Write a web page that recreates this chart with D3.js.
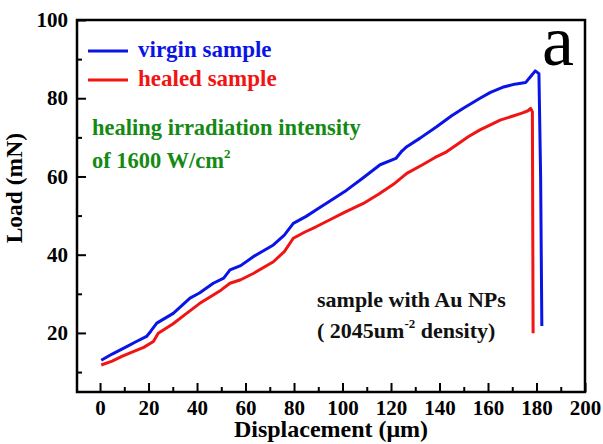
<!DOCTYPE html>
<html>
<meta charset="utf-8">

<body style="margin:0; background:#fff">
  <svg></svg>
</body>

<script src="https://d3js.org/d3.v7.min.js"></script>

<script>

  // data
  var virginX = [0.5, 5, 11, 15, 19.2, 21, 23.4, 30.2, 37.1, 41, 46.7, 51, 53.6, 58, 63.2, 71.5, 76, 79.7, 85, 90, 95, 101.7, 108, 115.5, 122, 124.5, 126.5, 132, 138.8, 145, 150, 156.7, 161, 166, 171, 175.5, 177.5, 179.5, 181, 181.7, 182.2];
  var virginY = [13.0, 14.6, 16.5, 17.8, 19.1, 20.5, 22.5, 25.0, 28.9, 30.2, 32.7, 34.0, 36.1, 37.2, 39.5, 42.5, 45.0, 48.0, 49.8, 51.8, 53.8, 56.5, 59.4, 63.0, 64.6, 66.5, 67.6, 69.8, 72.7, 75.5, 77.5, 80.0, 81.5, 82.8, 83.6, 84.0, 85.5, 87.0, 86.3, 60.0, 21.8];

  var healedX = [0.5, 5, 9, 13.7, 18, 22, 24, 30, 35.7, 41, 46.7, 50, 53.6, 58, 63.2, 71.5, 76, 79.7, 84.5, 89.3, 95, 101, 108.6, 115, 121, 126.5, 133, 138, 142.9, 148, 152, 156.7, 161, 165, 170, 174, 176.5, 177.6, 178.3, 178.6];
  var healedY = [11.8, 12.8, 14.0, 15.2, 16.3, 17.8, 19.9, 22.3, 25.0, 27.5, 29.7, 31.0, 32.7, 33.6, 35.2, 38.2, 40.8, 44.2, 45.8, 47.2, 49.0, 50.9, 53.1, 55.5, 58.0, 60.8, 63.0, 64.8, 66.3, 68.5, 70.2, 71.9, 73.2, 74.4, 75.4, 76.2, 76.8, 77.4, 76.5, 19.9];

  var xTicks = [0, 20, 40, 60, 80, 100, 120, 140, 160, 180, 200];
  var yTicks = [20, 40, 60, 80, 100];

  var seriesNames = ["virgin sample", "healed sample"];
  var seriesColors = ["#0a14e6", "#f01414"];

  var W = 603, H = 444;
  var margin = { top: 20, right: 18, bottom: 52, left: 77 };
  var width = W - margin.left - margin.right;
  var height = H - margin.top - margin.bottom;
  var serif = "'Liberation Serif', 'Times New Roman', serif";

  var svg = d3.select("svg")
    .attr("width", W)
    .attr("height", H)
    .append("g")
    .attr("transform", "translate(" + margin.left + "," + margin.top + ")");

  var xScale = d3.scaleLinear().domain([-9.5, 200]).range([0, width]);
  var yScale = d3.scaleLinear().domain([4.9, 100]).range([height, 0]);

  // frame
  svg.append("rect")
    .attr("width", width).attr("height", height)
    .attr("fill", "none").attr("stroke", "#000").attr("stroke-width", 2.5);

  // minor ticks (every 10), then major ticks with labels, pointing inward
  var xMinor = d3.range(10, 200, 20);
  var yMinor = d3.range(10, 100, 20);

  var xAxisMinor = d3.axisBottom(xScale).tickValues(xMinor).tickSize(-5).tickFormat("");
  var xAxis = d3.axisBottom(xScale).tickValues(xTicks).tickSize(-9).tickPadding(8);
  var yAxisMinor = d3.axisLeft(yScale).tickValues(yMinor).tickSize(-5).tickFormat("");
  var yAxis = d3.axisLeft(yScale).tickValues(yTicks).tickSize(-9).tickPadding(9);

  [xAxisMinor, xAxis].forEach(function (ax) {
    svg.append("g").attr("class", "axis")
      .attr("transform", "translate(0," + height + ")")
      .call(ax);
  });
  [yAxisMinor, yAxis].forEach(function (ax) {
    svg.append("g").attr("class", "axis").call(ax);
  });

  svg.selectAll(".axis .domain").remove();
  svg.selectAll(".axis line").attr("stroke", "#000").attr("stroke-width", 2);
  svg.selectAll(".axis text")
    .attr("font-weight", "bold")
    .attr("font-size", 21)
    .attr("fill", "#000");

  // axis titles
  svg.append("text")
    .attr("x", 331 - margin.left).attr("y", height + 45)
    .attr("text-anchor", "middle")
    .attr("font-weight", "bold").attr("font-size", 24)
    .text("Displacement (\u03bcm)");

  svg.append("text")
    .attr("transform", "translate(-55," + yScale(57) + ") rotate(-90)")
    .attr("text-anchor", "middle")
    .attr("font-weight", "bold").attr("font-size", 23.5)
    .text("Load (mN)");

  // curves
  var line = d3.line()
    .x(d => xScale(d[0]))
    .y(d => yScale(d[1]));

  var series = [d3.zip(virginX, virginY), d3.zip(healedX, healedY)];

  svg.selectAll("path.curve")
    .data(series)
    .enter().append("path")
    .attr("class", "curve")
    .attr("d", line)
    .attr("fill", "none")
    .attr("stroke", (d, i) => seriesColors[i])
    .attr("stroke-width", 3)
    .attr("stroke-linejoin", "round");

  // legend
  var legend = svg.selectAll("g.legend")
    .data(seriesNames)
    .enter().append("g")
    .attr("class", "legend")
    .attr("transform", (d, i) => "translate(11," + (31 + i * 29) + ")");

  legend.append("line")
    .attr("x1", 0).attr("x2", 40)
    .attr("stroke", (d, i) => seriesColors[i])
    .attr("stroke-width", 3);

  legend.append("text")
    .attr("x", 50).attr("y", 6)
    .attr("font-weight", "bold").attr("font-size", 23)
    .attr("fill", (d, i) => seriesColors[i])
    .text(d => d);

  // annotations
  var green = svg.append("text")
    .attr("font-weight", "bold").attr("font-size", 22.5)
    .attr("fill", "#148a14");
  green.append("tspan").attr("x", 15).attr("y", 115).text("healing irradiation intensity");
  green.append("tspan").attr("x", 15).attr("y", 148).text("of 1600 W/cm");
  green.append("tspan").attr("dy", -10).attr("font-size", 13).text("2");

  svg.append("text")
    .attr("x", 465).attr("y", 45)
    .attr("font-size", 72)
    .text("a");

  var note = svg.append("text")
    .attr("font-weight", "bold").attr("font-size", 22)
    .attr("fill", "#111");
  note.append("tspan").attr("x", 240).attr("y", 287).text("sample with Au NPs");
  note.append("tspan").attr("x", 240).attr("y", 318).text("(  2045um");
  note.append("tspan").attr("dy", -10).attr("font-size", 13).text("-2");
  note.append("tspan").attr("dy", 10).text(" density)");

  // serif everywhere (set on each text directly)
  d3.selectAll("text").style("font-family", serif);

</script>

</html>
